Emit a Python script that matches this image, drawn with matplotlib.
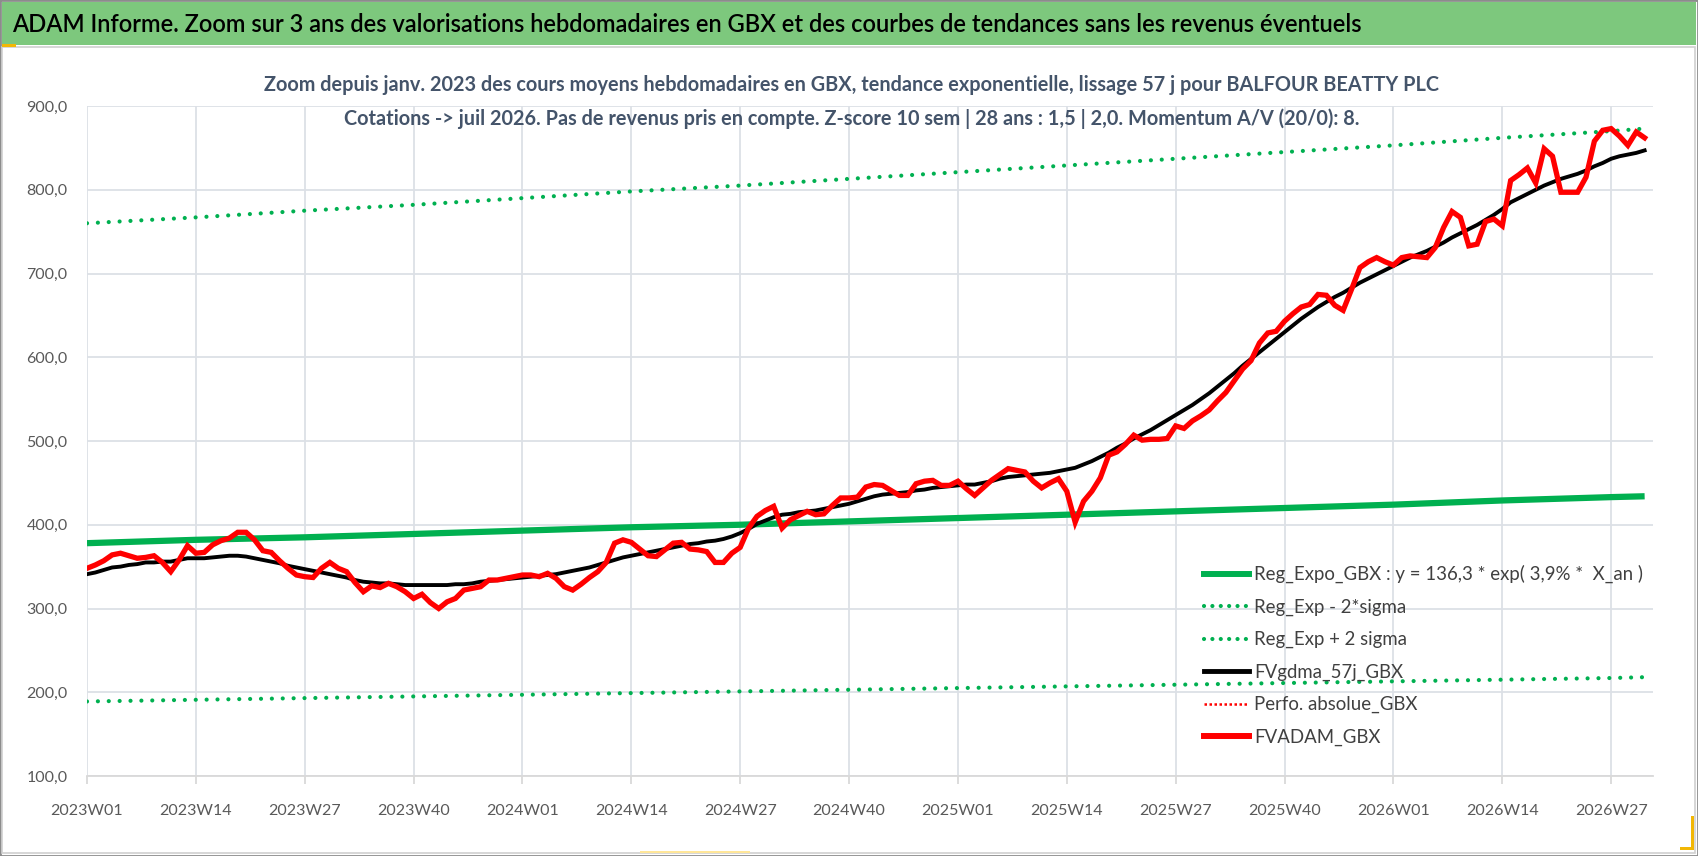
import matplotlib
matplotlib.use("Agg")
import matplotlib.pyplot as plt
from matplotlib.patches import Rectangle
from matplotlib.lines import Line2D
from matplotlib.ticker import FuncFormatter

plt.rcParams['font.family'] = ['Lato', 'DejaVu Sans']

# FVADAM_GBX weekly values from 2023W01
fvadam = [348, 352, 357, 364, 366, 363, 360, 361, 363, 355, 344, 358, 375,
          366, 367, 376, 381, 384, 391, 391, 382, 369, 367, 357, 348, 340,
          338, 337, 348, 355, 348, 344, 331, 320, 327, 325, 330, 326, 320,
          312, 317, 307, 300, 308, 312, 322, 324, 326, 334, 334, 336, 338,
          340, 340, 338, 342, 336, 326, 322, 329, 337, 344, 355, 378, 382,
          379, 371, 363, 362, 370, 378, 379, 371, 370, 368, 355, 355, 366,
          373, 396, 410, 417, 422, 396, 406, 411, 416, 412, 413, 423, 432,
          432, 433, 445, 448, 447, 441, 435, 435, 449, 452, 453, 447, 447,
          452, 443, 435, 444, 453, 460, 467, 465, 463, 452, 444, 450, 455,
          440, 403, 428, 440, 456, 483, 487, 496, 507, 501, 502, 502, 503,
          518, 515, 524, 530, 537, 548, 558, 572, 586, 596, 617, 629, 631,
          643, 652, 660, 663, 675, 674, 662, 656, 681, 707, 714, 719, 714,
          710, 719, 721, 720, 719, 731, 755, 774, 767, 733, 735, 762, 765,
          757, 811, 818, 826, 808, 849, 840, 797, 797, 797, 815, 858, 871,
          873, 864, 853, 869, 862]

# FVgdma_57j_GBX (smoothed)
fvgdma = [341, 343, 346, 349, 350, 352, 353, 355, 355, 356, 356, 358, 360,
          360, 360, 361, 362, 363, 363, 362, 360, 358, 356, 354, 351, 349,
          347, 345, 343, 341, 339, 337, 334, 332, 331, 330, 330, 329, 328,
          328, 328, 328, 328, 328, 329, 329, 330, 332, 333, 334, 335, 336,
          337, 338, 339, 340, 341, 343, 345, 347, 349, 352, 355, 358, 361,
          363, 365, 367, 369, 371, 373, 375, 377, 378, 380, 381, 383, 386,
          390, 395, 401, 405, 409, 412, 413, 415, 416, 417, 419, 421, 423,
          425, 428, 431, 434, 436, 437, 438, 439, 441, 442, 444, 445, 446,
          447, 448, 448, 450, 452, 455, 457, 458, 459, 460, 461, 462, 464,
          466, 468, 472, 476, 481, 486, 492, 497, 503, 508, 513, 519, 525,
          531, 537, 543, 550, 557, 565, 573, 581, 590, 598, 606, 614, 622,
          630, 638, 646, 653, 660, 666, 672, 677, 683, 689, 694, 699, 704,
          709, 714, 719, 723, 727, 732, 737, 743, 748, 753, 758, 764, 770,
          777, 785, 790, 795, 800, 805, 809, 813, 816, 819, 823, 828, 832,
          837, 840, 842, 844, 847]

# regression curve and bands, read at the labelled weeks
trend_weeks = [0, 13, 26, 39, 52, 65, 78, 91, 104, 117, 130, 143, 156, 169, 182, 186]
reg_expo = [378, 382, 385, 389, 393, 397, 400, 404, 408, 412, 416, 420, 424, 429, 433, 434]
reg_plus = [760, 767, 775, 782, 790, 798, 805, 813, 821, 829, 837, 845, 853, 862, 870, 873]
reg_minus = [189, 191, 193, 195, 197, 199, 201, 203, 205, 207, 209, 211, 213, 215, 217, 218]

tick_labels = ["2023W01", "2023W14", "2023W27", "2023W40", "2024W01", "2024W14",
               "2024W27", "2024W40", "2025W01", "2025W14", "2025W27", "2025W40",
               "2026W01", "2026W14", "2026W27"]

titre = ("ADAM Informe. Zoom sur 3 ans des valorisations hebdomadaires en GBX "
         "et des courbes de tendances sans les revenus éventuels")
sous_titre = ("Zoom depuis janv. 2023 des cours moyens hebdomadaires en GBX, tendance exponentielle, "
              "lissage 57 j pour BALFOUR BEATTY PLC\n"
              "Cotations -> juil 2026. Pas de revenus pris en compte. Z-score 10 sem | 28 ans : 1,5 | 2,0. "
              "Momentum A/V (20/0): 8.")

W, H = 1698, 856
fig = plt.figure(figsize=(W / 100, H / 100), dpi=100)

# frame, title band and small yellow accents
fig.patches.append(Rectangle((0, 0), 1, 1, transform=fig.transFigure, fill=False,
                             edgecolor='#8C8C8C', lw=2))
fig.patches.append(Rectangle((0.001, 1 - 45 / H), 0.998, 43 / H, transform=fig.transFigure,
                             facecolor='#7DC87D', edgecolor='none'))
fig.patches.append(Rectangle((0.001, 3 / H), 0.997, (H - 50) / H, transform=fig.transFigure,
                             fill=False, edgecolor='#D0D0D0', lw=1.2))
fig.patches.append(Rectangle((0.001, 1 - 47 / H), 14 / W, 3 / H, transform=fig.transFigure,
                             facecolor='#F2B705', edgecolor='none'))
fig.patches.append(Rectangle((1680 / W, 6 / H), 14 / W, 3 / H, transform=fig.transFigure,
                             facecolor='#F2B705', edgecolor='none'))
fig.patches.append(Rectangle((1691 / W, 6 / H), 3 / W, 34 / H, transform=fig.transFigure,
                             facecolor='#F2B705', edgecolor='none'))
fig.patches.append(Rectangle((640 / W, 3 / H), 110 / W, 2 / H, transform=fig.transFigure,
                             facecolor='#FFE699', edgecolor='none'))

fig.text(12 / W, 1 - 24 / H, titre, fontsize=17, color='black', va='center', ha='left',
         fontweight='semibold')
fig.text(852 / W, 1 - 102 / H, sous_titre, fontsize=14.3, color='#44546A', fontweight='bold',
         va='center', ha='center', linespacing=1.8)

ax = fig.add_axes([87 / W, 1 - 776 / H, (1653 - 87) / W, (776 - 106) / H])

dots = (0, (0.01, 2.6))
ax.plot(trend_weeks, reg_minus, color='#00B050', lw=3, linestyle=dots,
        dash_capstyle='round', zorder=2)
ax.plot(trend_weeks, reg_plus, color='#00B050', lw=3, linestyle=dots,
        dash_capstyle='round', zorder=2)
ax.plot(trend_weeks, reg_expo, color='#00B050', lw=4.5, solid_capstyle='butt', zorder=3)
ax.plot(range(len(fvgdma)), fvgdma, color='black', lw=2.8, zorder=4)
ax.plot(range(len(fvadam)), fvadam, color='#FF0000', lw=3.8, zorder=5,
        solid_joinstyle='miter')

ax.set_xlim(0, 187)
ax.set_ylim(100, 900)
ax.set_yticks(range(100, 901, 100))
ax.yaxis.set_major_formatter(FuncFormatter(lambda v, p: f"{v:.1f}".replace('.', ',')))
ax.set_xticks(range(0, 13 * len(tick_labels), 13))
ax.set_xticklabels(tick_labels)

ax.grid(True, color='#DCE0E6', lw=1.3, zorder=0)
ax.set_axisbelow(True)
for s in ['top', 'right', 'left']:
    ax.spines[s].set_visible(False)
ax.spines['bottom'].set_color('#D9D9D9')
ax.spines['bottom'].set_linewidth(1.3)
ax.tick_params(axis='x', length=6, color='#D9D9D9', width=1.3, labelsize=11.5,
               labelcolor='#595959', pad=14)
ax.tick_params(axis='y', length=0, labelsize=11.5, labelcolor='#595959', pad=14)

handles = [
    Line2D([], [], color='#00B050', lw=4.3),
    Line2D([], [], color='#00B050', lw=3, linestyle=(0, (0.01, 2.0)), dash_capstyle='round'),
    Line2D([], [], color='#00B050', lw=3, linestyle=(0, (0.01, 2.0)), dash_capstyle='round'),
    Line2D([], [], color='black', lw=3.5),
    Line2D([], [], color='#FF0000', lw=1.8, linestyle=(0, (1, 1))),
    Line2D([], [], color='#FF0000', lw=4.3),
]
labels = ["Reg_Expo_GBX : y = 136,3 * exp( 3,9% *  X_an )", "Reg_Exp - 2*sigma",
          "Reg_Exp + 2 sigma", "FVgdma_57j_GBX", "Perfo. absolue_GBX", "FVADAM_GBX"]
fig.legend(handles, labels, loc='upper left', bbox_to_anchor=(1204 / W, 1 - 565 / H),
           frameon=False, fontsize=13.4, labelcolor='#404040', handlelength=2.4,
           handletextpad=0.3, labelspacing=0.82, borderpad=0, borderaxespad=0)

fig.savefig('out.png', dpi=100)
